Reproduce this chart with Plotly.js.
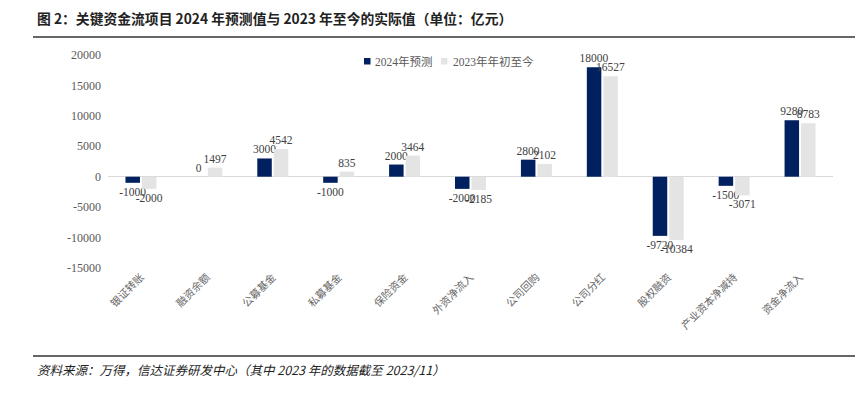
<!DOCTYPE html>
<html>
<head>
<meta charset="utf-8">
<script src="https://cdn.plot.ly/plotly-3.0.1.min.js"></script>
<style>html,body{margin:0;padding:0;background:#fff;}#chart{width:864px;height:405px;}</style>
</head>
<body>
<div id="chart"></div>
<script>
const categories = ['银证转账','融资余额','公募基金','私募基金','保险资金','外资净流入','公司回购','公司分红','股权融资','产业资本净减持','资金净流入'];
const forecast2024 = [-1000, 0, 3000, -1000, 2000, -2000, 2800, 18000, -9720, -1500, 9280];
const actual2023 = [-2000, 1497, 4542, 835, 3464, -2185, 2102, 16527, -10384, -3071, 8783];
const seriesNames = ['2024年预测', '2023年年初至今'];
const seriesColors = ['#002060', '#E4E4E4'];
const yTicks = [-15000, -10000, -5000, 0, 5000, 10000, 15000, 20000];

const serif = '"Times New Roman", "Liberation Serif", "Noto Sans CJK SC", serif';
const labelFont = {family: serif, size: 11.5, color: '#404040'};

const traces = [
  {type: 'bar', name: seriesNames[0], x: categories, y: forecast2024,
   marker: {color: seriesColors[0]}, text: forecast2024.map(String), textposition: 'outside',
   textfont: labelFont, constraintext: 'none', cliponaxis: false, hoverinfo: 'skip'},
  {type: 'bar', name: seriesNames[1], x: categories, y: actual2023,
   marker: {color: seriesColors[1]}, text: actual2023.map(String), textposition: 'outside',
   textfont: labelFont, constraintext: 'none', cliponaxis: false, hoverinfo: 'skip'}
];

const px = v => (v - 108) / 725;
const py = v => (268 - v) / 213;

// custom legend (squares + text)
const legendItems = [{sx: 364, tx: 373}, {sx: 441, tx: 451}];
const legendShapes = legendItems.map((it, i) => ({
  type: 'rect', xref: 'paper', yref: 'paper', x0: px(it.sx), x1: px(it.sx + 6.5),
  y0: py(64.5), y1: py(58), fillcolor: seriesColors[i], line: {width: 0}
}));
const legendTexts = legendItems.map((it, i) => ({
  xref: 'paper', yref: 'paper', x: px(it.tx), y: py(61.5), xanchor: 'left', yanchor: 'middle',
  showarrow: false, text: seriesNames[i], font: {family: serif, size: 11.5, color: '#595959'}
}));

const layout = {
  width: 864, height: 405,
  margin: {l: 108, r: 31, t: 55, b: 137},
  paper_bgcolor: '#fff', plot_bgcolor: '#fff',
  barmode: 'group', bargap: 0.5, bargroupgap: 0.12,
  showlegend: false,
  xaxis: {type: 'category', tickangle: -45, showgrid: false, showline: false, zeroline: false,
          ticks: '', tickfont: {family: '"Noto Sans CJK SC", serif', size: 10.5, color: '#666'}},
  yaxis: {range: [-15000, 20000], tickvals: yTicks, ticktext: yTicks.map(String),
          showgrid: false, showline: false, zeroline: true, zerolinecolor: '#D9D9D9', zerolinewidth: 1.3,
          ticks: '', ticklabelstandoff: 6,
          tickfont: {family: serif, size: 12, color: '#595959'}},
  annotations: [
    {xref: 'paper', yref: 'paper', x: px(35), y: py(18), xanchor: 'left', yanchor: 'middle',
     showarrow: false, text: '<b>图 2：关键资金流项目 2024 年预测值与 2023 年至今的实际值（单位：亿元）</b>',
     font: {family: '"Noto Sans CJK SC", sans-serif', size: 13.8, color: '#222'}},
    {xref: 'paper', yref: 'paper', x: px(35), y: py(369), xanchor: 'left', yanchor: 'middle',
     showarrow: false, text: '<i>资料来源：万得，信达证券研发中心（其中 2023 年的数据截至 2023/11）</i>',
     font: {family: '"Noto Sans CJK SC", sans-serif', size: 12.5, color: '#222'}}
  ].concat(legendTexts),
  shapes: [
    {type: 'line', xref: 'paper', yref: 'paper', x0: px(33), x1: px(855),
     y0: py(37), y1: py(37), line: {color: '#333', width: 1.3}},
    {type: 'line', xref: 'paper', yref: 'paper', x0: px(33), x1: px(855),
     y0: py(356), y1: py(356), line: {color: '#333', width: 1.3}}
  ].concat(legendShapes)
};

Plotly.newPlot('chart', traces, layout, {displayModeBar: false, staticPlot: true});
</script>
</body>
</html>
